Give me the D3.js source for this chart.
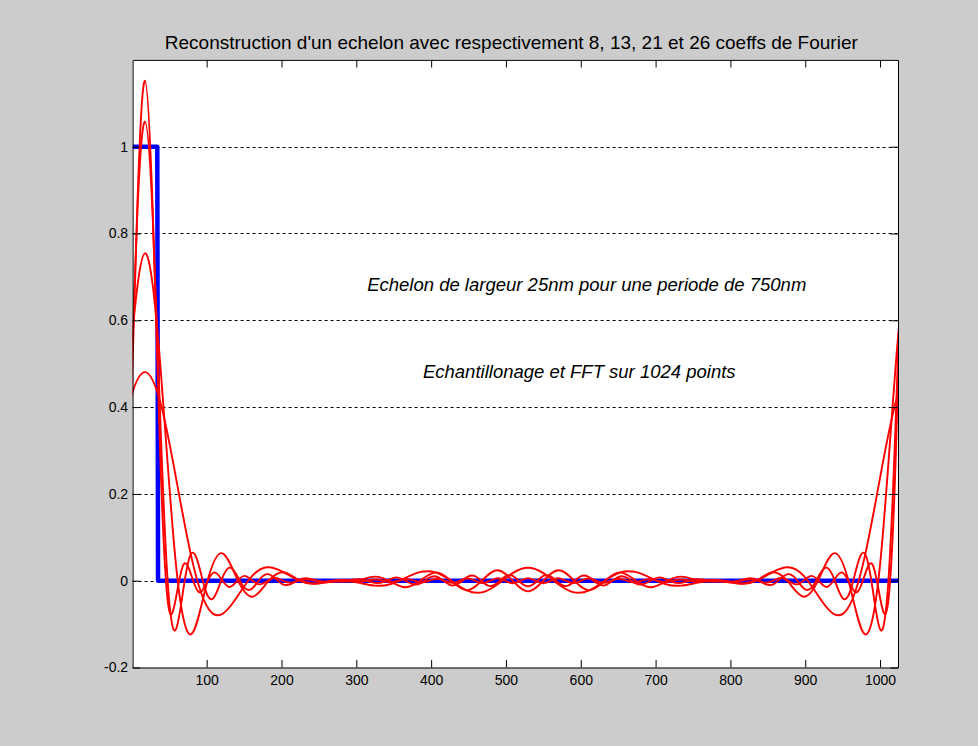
<!DOCTYPE html>
<html>
<head>
<meta charset="utf-8">
<script src="https://cdn.jsdelivr.net/npm/d3@7"></script>
<style>
  html, body { margin: 0; padding: 0; background: #cccccc; }
  svg { display: block; }
</style>
</head>
<body>
<svg id="chart" width="978" height="746"></svg>
<script>
// ---- data ---------------------------------------------------------------
// rectangular pulse (samples 1..34 set to 1)
const stepX = [1, 34, 35, 1024];
const stepY = [1, 1, 0, 0];

// sample positions for the 21- and 26-coefficient reconstructions
const xFine = [-13.22,-2.98,7.26,17.5,27.74,37.98,48.22,58.46,68.7,78.94,89.18,99.42,109.66,119.9,130.14,140.38,150.62,160.86,171.1,181.34,191.58,201.82,212.06,222.3,232.54,242.78,253.02,263.26,273.5,283.74,293.98,304.22,314.46,324.7,334.94,345.18,355.42,365.66,375.9,386.14,396.38,406.62,416.86,427.1,437.34,447.58,457.82,468.06,478.3,488.54,498.78,509.02,519.26,529.5,539.74,549.98,560.22,570.46,580.7,590.94,601.18,611.42,621.66,631.9,642.14,652.38,662.62,672.86,683.1,693.34,703.58,713.82,724.06,734.3,744.54,754.78,765.02,775.26,785.5,795.74,805.98,816.22,826.46,836.7,846.94,857.18,867.42,877.66,887.9,898.14,908.38,918.62,928.86,939.1,949.34,959.58,969.82,980.06,990.3,1000.54,1010.78,1021.02,1031.26,1041.5];

// sample positions for the 8- and 13-coefficient reconstructions
const xCoarse = [-23.46,-2.98,17.5,37.98,58.46,78.94,99.42,119.9,140.38,160.86,181.34,201.82,222.3,242.78,263.26,283.74,304.22,324.7,345.18,365.66,386.14,406.62,427.1,447.58,468.06,488.54,509.02,529.5,549.98,570.46,590.94,611.42,631.9,652.38,672.86,693.34,713.82,734.3,754.78,775.26,795.74,816.22,836.7,857.18,877.66,898.14,918.62,939.1,959.58,980.06,1000.54,1021.02,1041.5,1061.98];

const fourier8 = [0.2421,0.4115,0.4806,0.4115,0.2421,0.0595,-0.0559,-0.0776,-0.0381,0.0112,0.0311,0.0205,0.0017,-0.0063,-0.0031,-0.0003,-0.0051,-0.0114,-0.0082,0.0063,0.0202,0.0187,-0.0004,-0.0221,-0.0268,-0.0089,0.0175,0.0299,0.0175,-0.0089,-0.0268,-0.0221,-0.0004,0.0187,0.0202,0.0063,-0.0082,-0.0114,-0.0051,-0.0003,-0.0031,-0.0063,0.0017,0.0205,0.0311,0.0112,-0.0381,-0.0776,-0.0559,0.0595,0.2421,0.4115,0.4806,0.4115];

const fourier13 = [0.0458,0.4980,0.7543,0.4980,0.0458,-0.1236,-0.0115,0.0635,0.0055,-0.0370,-0.0035,0.0196,0.0025,-0.0073,-0.0019,-0.0021,0.0015,0.0094,-0.0012,-0.0150,0.0009,0.0192,-0.0006,-0.0222,0.0004,0.0240,-0.0001,-0.0245,-0.0001,0.0240,0.0004,-0.0222,-0.0006,0.0192,0.0009,-0.0150,-0.0012,0.0094,0.0015,-0.0021,-0.0019,-0.0073,0.0025,0.0196,-0.0035,-0.0370,0.0055,0.0635,-0.0115,-0.1236,0.0458,0.4980,0.7543,0.4980];

const fourier21 = [-0.0100,0.3743,0.8445,1.0579,0.8445,0.3743,-0.0100,-0.1135,-0.0213,0.0614,0.0371,-0.0270,-0.0388,0.0021,0.0300,0.0128,-0.0165,-0.0178,0.0036,0.0151,0.0050,-0.0084,-0.0078,0.0016,0.0059,0.0024,-0.0019,-0.0026,-0.0015,0.0000,0.0023,0.0033,-0.0002,-0.0050,-0.0037,0.0037,0.0072,0.0003,-0.0082,-0.0056,0.0058,0.0097,-0.0005,-0.0108,-0.0059,0.0080,0.0109,-0.0020,-0.0125,-0.0052,0.0098,0.0109,-0.0037,-0.0131,-0.0037,0.0109,0.0098,-0.0052,-0.0125,-0.0020,0.0109,0.0080,-0.0059,-0.0108,-0.0005,0.0097,0.0058,-0.0056,-0.0082,0.0003,0.0072,0.0037,-0.0037,-0.0050,-0.0002,0.0033,0.0023,0.0000,-0.0015,-0.0026,-0.0019,0.0024,0.0059,0.0016,-0.0078,-0.0084,0.0050,0.0151,0.0036,-0.0178,-0.0165,0.0128,0.0300,0.0021,-0.0388,-0.0270,0.0371,0.0614,-0.0213,-0.1135,-0.0100,0.3743,0.8445,1.0579];

const fourier26 = [-0.0503,0.2869,0.8590,1.1519,0.8590,0.2869,-0.0503,-0.0440,0.0362,0.0152,-0.0258,-0.0069,0.0191,0.0032,-0.0145,-0.0015,0.0111,0.0006,-0.0085,-0.0003,0.0064,0.0003,-0.0047,-0.0005,0.0034,0.0008,-0.0023,-0.0012,0.0014,0.0016,-0.0006,-0.0021,0.0001,0.0026,0.0004,-0.0032,-0.0007,0.0036,0.0008,-0.0041,-0.0009,0.0045,0.0009,-0.0049,-0.0009,0.0052,0.0007,-0.0055,-0.0006,0.0057,0.0004,-0.0058,-0.0001,0.0058,-0.0001,-0.0058,0.0004,0.0057,-0.0006,-0.0055,0.0007,0.0052,-0.0009,-0.0049,0.0009,0.0045,-0.0009,-0.0041,0.0008,0.0036,-0.0007,-0.0032,0.0004,0.0026,0.0001,-0.0021,-0.0006,0.0016,0.0014,-0.0012,-0.0023,0.0008,0.0034,-0.0005,-0.0047,0.0003,0.0064,-0.0003,-0.0085,0.0006,0.0111,-0.0015,-0.0145,0.0032,0.0191,-0.0069,-0.0258,0.0152,0.0362,-0.0440,-0.0503,0.2869,0.8590,1.1519];

const xTicks = [100, 200, 300, 400, 500, 600, 700, 800, 900, 1000];
const yTicks = [-0.2, 0, 0.2, 0.4, 0.6, 0.8, 1];
const yTickLabels = ["-0.2", "0", "0.2", "0.4", "0.6", "0.8", "1"];
const gridValues = [0, 0.2, 0.4, 0.6, 0.8, 1];

const titleText = "Reconstruction d'un echelon avec respectivement 8, 13, 21 et 26 coeffs de Fourier";
const note1 = "Echelon de largeur 25nm pour une periode de 750nm";
const note2 = "Echantillonage et FFT sur 1024 points";

// ---- layout -------------------------------------------------------------
const W = 978, H = 746;
const FONT = "'Liberation Sans', Arial, Helvetica, sans-serif";
const x = d3.scaleLinear().domain([1, 1024]).range([132.6, 898]);
const y = d3.scaleLinear().domain([-0.2, 1.2]).range([667.5, 59.9]);
const TICK = 7.6;

const svg = d3.select("#chart");
svg.append("rect").attr("width", W).attr("height", H).attr("fill", "#cccccc");

const plotX = x(1), plotY = y(1.2), plotW = x(1024) - x(1), plotH = y(-0.2) - y(1.2);
svg.append("rect")
  .attr("x", plotX).attr("y", plotY)
  .attr("width", plotW).attr("height", plotH)
  .attr("fill", "#ffffff");

svg.append("defs").append("clipPath").attr("id", "plotClip")
  .append("rect")
  .attr("x", plotX).attr("y", plotY)
  .attr("width", plotW).attr("height", plotH);

// dashed horizontal grid
svg.append("g")
  .selectAll("line")
  .data(gridValues)
  .join("line")
  .attr("x1", plotX).attr("x2", plotX + plotW)
  .attr("y1", d => Math.round(y(d)) + 0.5)
  .attr("y2", d => Math.round(y(d)) + 0.5)
  .attr("stroke", "#000")
  .attr("stroke-width", 1)
  .attr("stroke-dasharray", "3,3");

// ---- curves -------------------------------------------------------------
const plot = svg.append("g").attr("clip-path", "url(#plotClip)");

const stepLine = d3.line()
  .x((d, i) => x(stepX[i]))
  .y(d => y(d));
plot.append("path")
  .datum(stepY)
  .attr("d", stepLine)
  .attr("fill", "none")
  .attr("stroke", "#0000ff")
  .attr("stroke-width", 4.5)
  .attr("stroke-linejoin", "round");

const series = [
  { xs: xCoarse, ys: fourier8 },
  { xs: xCoarse, ys: fourier13 },
  { xs: xFine, ys: fourier21 },
  { xs: xFine, ys: fourier26 }
];
series.forEach(s => {
  const line = d3.line()
    .x((d, i) => x(s.xs[i]))
    .y(d => y(d))
    .curve(d3.curveNatural);
  plot.append("path")
    .datum(s.ys)
    .attr("d", line)
    .attr("fill", "none")
    .attr("stroke", "#ff0000")
    .attr("stroke-width", 1.9)
    .attr("stroke-linejoin", "round");
});

// ---- axes ---------------------------------------------------------------
function styleAxis(g) {
  g.selectAll(".domain").attr("stroke", "#000").attr("stroke-width", 1);
  g.selectAll(".tick line").attr("stroke", "#000").attr("stroke-width", 1);
  g.selectAll("text")
    .attr("fill", "#000")
    .style("font-family", FONT)
    .style("font-size", "14px");
}

svg.append("g")
  .attr("transform", `translate(0,${y(-0.2)})`)
  .call(d3.axisBottom(x).tickValues(xTicks).tickSizeInner(-TICK).tickSizeOuter(0).tickPadding(8).tickFormat(d3.format("d")))
  .call(styleAxis);

svg.append("g")
  .attr("transform", `translate(0,${y(1.2)})`)
  .call(d3.axisTop(x).tickValues(xTicks).tickSizeInner(-TICK).tickSizeOuter(0).tickFormat(""))
  .call(styleAxis);

svg.append("g")
  .attr("transform", `translate(${x(1)},0)`)
  .call(d3.axisLeft(y).tickValues(yTicks).tickSizeInner(-TICK).tickSizeOuter(0).tickPadding(4.5)
    .tickFormat((d, i) => yTickLabels[i]))
  .call(styleAxis);

svg.append("g")
  .attr("transform", `translate(${x(1024)},0)`)
  .call(d3.axisRight(y).tickValues(yTicks).tickSizeInner(-TICK).tickSizeOuter(0).tickFormat(""))
  .call(styleAxis);

// ---- texts --------------------------------------------------------------
svg.append("text")
  .attr("x", (x(1) + x(1024)) / 2 - 4)
  .attr("y", 49)
  .attr("text-anchor", "middle")
  .style("font-family", FONT)
  .style("font-size", "19px")
  .attr("fill", "#000")
  .text(titleText);

svg.append("text")
  .attr("x", x(608))
  .attr("y", y(0.6675))
  .attr("text-anchor", "middle")
  .style("font-family", FONT)
  .style("font-size", "18.5px")
  .style("font-style", "italic")
  .attr("fill", "#000")
  .text(note1);

svg.append("text")
  .attr("x", x(598))
  .attr("y", y(0.468))
  .attr("text-anchor", "middle")
  .style("font-family", FONT)
  .style("font-size", "18.5px")
  .style("font-style", "italic")
  .attr("fill", "#000")
  .text(note2);
</script>
</body>
</html>
